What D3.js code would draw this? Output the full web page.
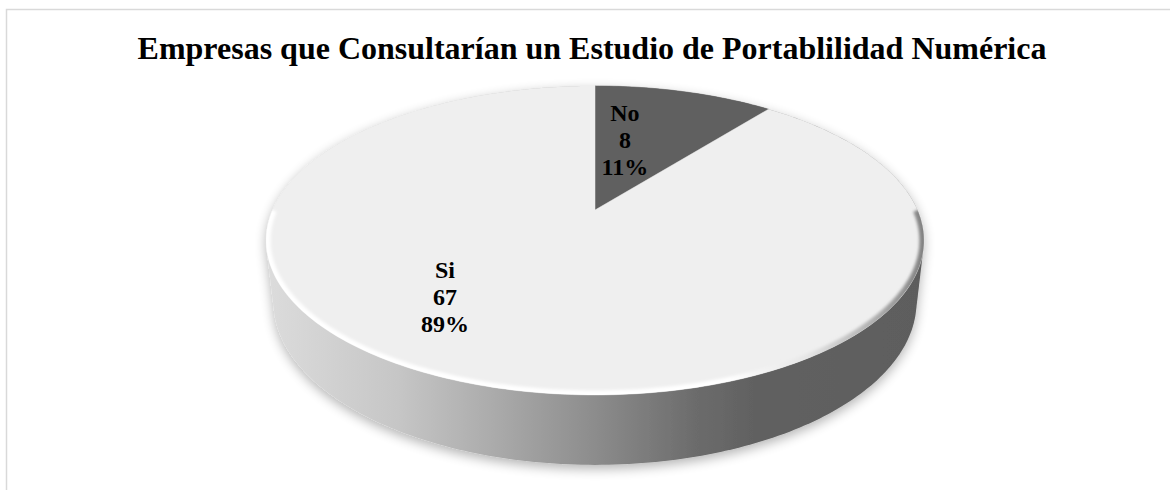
<!DOCTYPE html>
<html>
<head>
<meta charset="utf-8">
<script src="https://cdn.jsdelivr.net/npm/d3@7"></script>
<style>
  html, body { margin: 0; padding: 0; background: #ffffff; }
  svg { display: block; }
</style>
</head>
<body>
<svg id="chart" width="1170" height="490"></svg>
<script>
// ---- data ----
const title = "Empresas que Consultarían un Estudio de Portablilidad Numérica";
const categories = ["No", "Si"];
const values = [8, 67];
const sliceColors = ["#606060", "#efefef"];

// ---- layout / projection constants ----
const W = 1170, H = 490;
const cx = 595, cy0 = 210;        // projected pie centre
const D = 4.506, f = 1453;        // camera distance (in radii) and focal length
const phi = Math.asin(0.4605);    // elevation angle
const sinP = Math.sin(phi), cosP = Math.cos(phi);
const depthH = 0.216;             // thickness (in radii)
// label placement (radius fraction, angle fraction within slice)
const labelPlace = [{r: 0.53, a: 0.29}, {r: 0.67, a: 0.56}];

function proj(X, Y, Z) {
  const d = D - Y * sinP - Z * cosP;
  return [cx + f * X / d, cy0 - f * (Y * cosP - Z * sinP) / d];
}
function polar(theta, rho, Y) {
  return proj(rho * Math.sin(theta), Y, -rho * Math.cos(theta));
}

const svg = d3.select("#chart");
const defs = svg.append("defs");
const fontFam = "'Liberation Serif', 'Times New Roman', Times, serif";

// border
svg.append("rect")
  .attr("x", 6.5).attr("y", 9.5)
  .attr("width", 1180).attr("height", 520)
  .attr("fill", "#ffffff")
  .attr("stroke", "#d9d9d9").attr("stroke-width", 1.5);

// title
svg.append("text")
  .attr("x", 592).attr("y", 59)
  .attr("text-anchor", "middle")
  .attr("font-family", fontFam)
  .attr("font-weight", "bold")
  .attr("font-size", 32)
  .attr("fill", "#000")
  .text(title);

// sampled ellipses
const N = 360;
const tops = d3.range(N).map(i => polar(i / N * 2 * Math.PI, 1, 0));
const bots = d3.range(N).map(i => polar(i / N * 2 * Math.PI, 1, -depthH));
const hull = d3.polygonHull(tops.concat(bots));

// side gradient
const sideGrad = defs.append("linearGradient")
  .attr("id", "sideGrad").attr("gradientUnits", "userSpaceOnUse")
  .attr("x1", 266).attr("x2", 925).attr("y1", 0).attr("y2", 0);
[[0, "#dcdcdc"], [0.2, "#c6c6c6"], [0.35, "#aaaaaa"], [0.5, "#8c8c8c"],
 [0.65, "#6c6c6c"], [0.74, "#616161"], [1, "#5d5d5d"]]
  .forEach(([o, c]) => sideGrad.append("stop").attr("offset", o).attr("stop-color", c));

// shadow filter
const sh = defs.append("filter").attr("id", "shadow")
  .attr("x", "-10%").attr("y", "-10%").attr("width", "120%").attr("height", "130%");
sh.append("feGaussianBlur").attr("in", "SourceAlpha").attr("stdDeviation", 6).attr("result", "b");
sh.append("feOffset").attr("in", "b").attr("dx", 0).attr("dy", 4).attr("result", "o");
sh.append("feComponentTransfer").attr("in", "o").attr("result", "s")
  .append("feFuncA").attr("type", "linear").attr("slope", 0.3);
const m = sh.append("feMerge");
m.append("feMergeNode").attr("in", "s");
m.append("feMergeNode").attr("in", "SourceGraphic");

const blur = defs.append("filter").attr("id", "soft");
blur.append("feGaussianBlur").attr("stdDeviation", 1.4);

const line = d3.line().curve(d3.curveLinearClosed);

// side (hull of both ellipses)
svg.append("path")
  .attr("d", line(hull))
  .attr("fill", "url(#sideGrad)")
  .attr("filter", "url(#shadow)");

// top face clip
defs.append("clipPath").attr("id", "topClip")
  .append("path").attr("d", line(tops));

// slices
const pie = d3.pie().sort(null).value(d => d)(values);
const total = d3.sum(values);
const gTop = svg.append("g");
pie.forEach((s, i) => {
  const n = Math.max(8, Math.ceil((s.endAngle - s.startAngle) / (2 * Math.PI) * N));
  const pts = [polar(0, 0, 0)];
  for (let k = 0; k <= n; k++) {
    pts.push(polar(s.startAngle + (s.endAngle - s.startAngle) * k / n, 1, 0));
  }
  gTop.append("path")
    .attr("d", line(pts))
    .attr("fill", sliceColors[i])
    .attr("stroke", sliceColors[i]).attr("stroke-width", 0.5);
});

// rim bevel highlight
const rimGrad = defs.append("linearGradient")
  .attr("id", "rimGrad").attr("gradientUnits", "userSpaceOnUse")
  .attr("x1", 266).attr("x2", 925).attr("y1", 0).attr("y2", 0);
[[0, "#ffffff"], [0.7, "#ffffff"], [0.82, "#e6e6e6"], [0.92, "#b0b0b0"], [1, "#808080"]]
  .forEach(([o, c]) => rimGrad.append("stop").attr("offset", o).attr("stop-color", c));
const front = d3.range(0, 181).map(i => polar(Math.PI / 2 + i / 180 * Math.PI, 1, 0));
svg.append("g").attr("clip-path", "url(#topClip)")
  .append("path")
  .attr("d", d3.line()(front))
  .attr("fill", "none")
  .attr("stroke", "url(#rimGrad)")
  .attr("stroke-width", 9)
  .attr("filter", "url(#soft)");

// labels
const pct = d3.format(".0%");
pie.forEach((s, i) => {
  const lp = labelPlace[i];
  const ang = s.startAngle + (s.endAngle - s.startAngle) * lp.a;
  const [lx, ly] = polar(ang, lp.r, 0);
  const lines = [categories[i], String(values[i]), pct(values[i] / total)];
  const t = svg.append("text")
    .attr("text-anchor", "middle")
    .attr("font-family", fontFam)
    .attr("font-weight", "bold")
    .attr("font-size", 24)
    .attr("fill", "#000");
  lines.forEach((L, j) => {
    t.append("tspan").attr("x", lx).attr("y", ly + 8 + (j - 1) * 27).text(L);
  });
});
</script>
</body>
</html>
